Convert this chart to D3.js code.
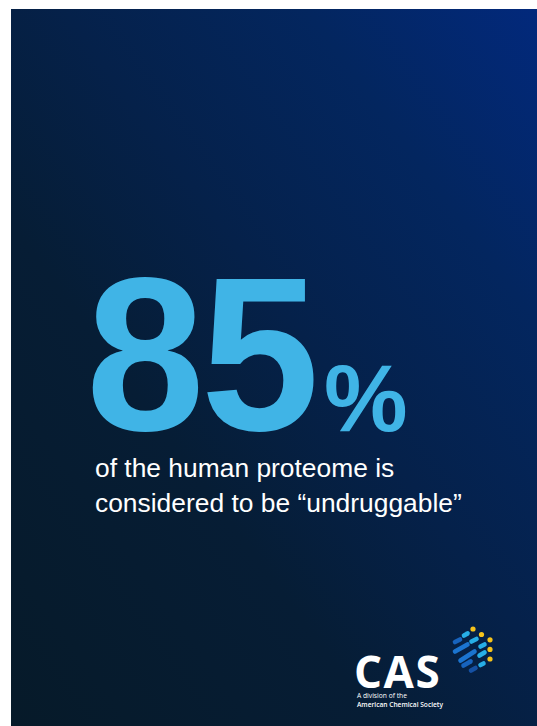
<!DOCTYPE html>
<html><head><meta charset="utf-8">
<script src="https://cdn.jsdelivr.net/npm/d3@7"></script>
<style>html,body{margin:0;padding:0;background:#fff;overflow:hidden}</style>
</head><body>
<script>
// ---- data ----
const headlineValue = ["85"];
const headlineUnit = ["%"];
const subtitleLines = ["of the human proteome is", "considered to be \u201cundruggable\u201d"];
const logoWord = ["CAS"];
const logoTagline = ["A division of the", "American Chemical Society"];
// logo icon: capsules in a local unit grid [x1,y1,x2,y2,tone]
const logoDashes = [
  [5,17,10,14.5,"dark"],[14,10.5,17.5,8.5,"cyan"],[5,26.5,17.5,19.5,"mid"],
  [21.5,16.5,26.5,14,"cyan"],[30.5,21.5,34.5,19.5,"cyan"],[10.5,35.5,24.5,26.5,"mid"],
  [29.5,30.5,34.5,27.5,"cyan"],[13.5,40.5,20.5,36.5,"dark"],[30.5,40,33.5,38.5,"cyan"],
  [21,45.5,25.5,43,"deep"]
];
const logoDots = [[23,4],[31.5,9.5],[40,14.8],[40,24.4],[40,34]];

const W = 537, H = 726;
const svg = d3.select("body").append("svg").attr("width", W).attr("height", H);
const defs = svg.append("defs");
const grad = defs.append("linearGradient").attr("id","bg")
  .attr("x1","0").attr("y1","1").attr("x2","1").attr("y2","0");
[[0,"#061a29"],[0.35,"#061d35"],[0.55,"#05214a"],[0.78,"#03265f"],[1,"#02297c"]]
  .forEach(s=>grad.append("stop").attr("offset",s[0]).attr("stop-color",s[1]));

const panel = {x:11, y:9, w:W-11, h:H-9};
svg.append("rect").attr("x",panel.x).attr("y",panel.y).attr("width",panel.w).attr("height",panel.h)
  .attr("fill","url(#bg)");

// headline
svg.selectAll("text.big").data(headlineValue).join("text").attr("class","big")
  .attr("x",86).attr("y",430)
  .attr("transform","translate(86,0) scale(0.97,1) translate(-86,0)")
  .attr("font-family","'Liberation Sans', Arial, sans-serif").attr("font-weight","bold")
  .attr("font-size",220).attr("letter-spacing",-4).attr("fill","#40b4e6").text(d=>d);
svg.selectAll("text.unit").data(headlineUnit).join("text").attr("class","unit")
  .attr("x",324).attr("y",431)
  .attr("font-family","'Liberation Sans', Arial, sans-serif").attr("font-weight","bold")
  .attr("font-size",94).attr("fill","#40b4e6").text(d=>d);

const lineY = d3.scaleLinear().domain([0,1]).range([477,512]);
svg.selectAll("text.sub").data(subtitleLines).join("text").attr("class","sub")
  .attr("x",95).attr("y",(d,i)=>lineY(i))
  .attr("font-family","'Liberation Sans', Arial, sans-serif")
  .attr("font-size",26.4).attr("fill","#ffffff").text(d=>d);

// logo
const logo = svg.append("g");
logo.selectAll("text.cas").data(logoWord).join("text").attr("class","cas")
  .attr("x",354).attr("y",688).attr("letter-spacing",1.5)
  .attr("font-family","'Open Sans', sans-serif").attr("font-weight",700)
  .attr("font-size",44).attr("fill","#ffffff").text(d=>d);
const tagY = d3.scaleLinear().domain([0,1]).range([698,706.5]);
logo.selectAll("text.tag").data(logoTagline).join("text").attr("class","tag")
  .attr("x",357).attr("y",(d,i)=>tagY(i)).attr("textLength",(d,i)=>i?86:50)
  .attr("lengthAdjust","spacingAndGlyphs")
  .attr("font-family","'Open Sans', sans-serif").attr("font-weight",(d,i)=>i?600:400)
  .attr("font-size",7).attr("fill","#ffffff").text(d=>d);

const sx = d3.scaleLinear().domain([0,1]).range([450,451]);
const sy = d3.scaleLinear().domain([0,1]).range([625,626]);
const tone = d3.scaleOrdinal().domain(["deep","dark","mid","cyan"])
  .range(["#1550a3","#1763bd","#1b74cf","#27aee6"]);
logo.selectAll("line.dash").data(logoDashes).join("line").attr("class","dash")
  .attr("x1",d=>sx(d[0])).attr("y1",d=>sy(d[1])).attr("x2",d=>sx(d[2])).attr("y2",d=>sy(d[3]))
  .attr("stroke",d=>tone(d[4])).attr("stroke-width",4.6).attr("stroke-linecap","round");
logo.selectAll("circle.dot").data(logoDots).join("circle").attr("class","dot")
  .attr("cx",d=>sx(d[0])).attr("cy",d=>sy(d[1])).attr("r",2.6).attr("fill","#f6c31b");
</script>
</body></html>
